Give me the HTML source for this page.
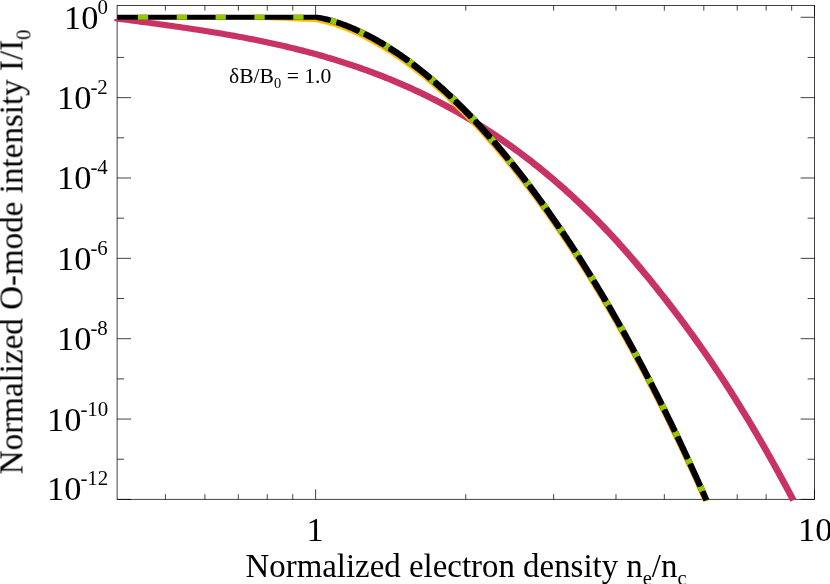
<!DOCTYPE html>
<html><head><meta charset="utf-8"><title>chart</title><style>
html,body{margin:0;padding:0;background:#fff;}
body{width:830px;height:584px;position:relative;overflow:hidden;font-family:"Liberation Serif",serif;color:#000;}
.t{will-change:transform;position:absolute;white-space:nowrap;line-height:1;font-size:32.9px;}
.s{font-size:20.40px;position:relative;}
</style></head><body>
<svg width="830" height="584" viewBox="0 0 830 584" style="position:absolute;left:0;top:0">
<defs><clipPath id="cy"><rect x="117.1" y="5.5" width="701.5" height="495.7"/></clipPath><clipPath id="cb"><rect x="117.1" y="5.5" width="701.5" height="499.8"/></clipPath><clipPath id="cpk"><rect x="113.1" y="5.5" width="705.5" height="499.8"/></clipPath></defs>
<rect width="100%" height="100%" fill="#fff"/>
<path d="M315.60 499.3 V489.3 M315.60 5.5 V15.5 M814.50 499.3 V489.3 M814.50 5.5 V15.5 M165.42 499.3 V494.2 M165.42 5.5 V10.6 M204.92 499.3 V494.2 M204.92 5.5 V10.6 M238.32 499.3 V494.2 M238.32 5.5 V10.6 M267.25 499.3 V494.2 M267.25 5.5 V10.6 M292.77 499.3 V494.2 M292.77 5.5 V10.6 M465.78 499.3 V494.2 M465.78 5.5 V10.6 M553.64 499.3 V494.2 M553.64 5.5 V10.6 M615.97 499.3 V494.2 M615.97 5.5 V10.6 M664.32 499.3 V494.2 M664.32 5.5 V10.6 M703.82 499.3 V494.2 M703.82 5.5 V10.6 M737.22 499.3 V494.2 M737.22 5.5 V10.6 M766.15 499.3 V494.2 M766.15 5.5 V10.6 M791.67 499.3 V494.2 M791.67 5.5 V10.6 M117.1 17.27 H131.1 M814.6 17.27 H800.6 M117.1 57.45 H124.1 M814.6 57.45 H807.6 M117.1 97.63 H131.1 M814.6 97.63 H800.6 M117.1 137.81 H124.1 M814.6 137.81 H807.6 M117.1 177.99 H131.1 M814.6 177.99 H800.6 M117.1 218.17 H124.1 M814.6 218.17 H807.6 M117.1 258.35 H131.1 M814.6 258.35 H800.6 M117.1 298.53 H124.1 M814.6 298.53 H807.6 M117.1 338.71 H131.1 M814.6 338.71 H800.6 M117.1 378.89 H124.1 M814.6 378.89 H807.6 M117.1 419.07 H131.1 M814.6 419.07 H800.6 M117.1 459.25 H124.1 M814.6 459.25 H807.6 M117.1 499.43 H131.1 M814.6 499.43 H800.6" stroke="#000" stroke-width="0.74" fill="none"/>
<rect x="117.1" y="5.5" width="697.5" height="493.8" fill="none" stroke="#000" stroke-width="0.74"/>
<path d="M117.49 15.58 L119.81 15.88 L122.13 16.19 L124.45 16.49 L126.76 16.80 L129.08 17.10 L131.40 17.41 L133.72 17.72 L136.04 18.02 L138.35 18.33 L140.67 18.64 L142.99 18.95 L145.31 19.25 L147.63 19.57 L149.95 19.88 L152.27 20.19 L154.59 20.50 L156.91 20.82 L159.22 21.14 L161.54 21.45 L163.86 21.77 L166.18 22.10 L168.50 22.42 L170.82 22.75 L173.14 23.07 L175.46 23.40 L177.78 23.74 L180.11 24.07 L182.43 24.41 L184.75 24.75 L187.07 25.09 L189.39 25.43 L191.71 25.78 L194.03 26.13 L196.35 26.48 L198.67 26.84 L201.00 27.20 L203.32 27.56 L205.64 27.93 L207.96 28.30 L210.28 28.67 L212.61 29.05 L214.93 29.43 L217.25 29.81 L219.57 30.20 L221.90 30.59 L224.22 30.99 L226.54 31.39 L228.87 31.79 L231.19 32.20 L233.51 32.62 L235.84 33.03 L238.16 33.46 L240.48 33.88 L242.81 34.32 L245.13 34.76 L247.46 35.20 L249.78 35.65 L252.10 36.10 L254.43 36.56 L256.75 37.02 L259.08 37.49 L261.40 37.97 L263.73 38.45 L266.05 38.93 L268.38 39.43 L270.70 39.92 L273.03 40.43 L275.35 40.94 L277.68 41.46 L280.01 41.98 L282.33 42.51 L284.66 43.05 L286.98 43.59 L289.31 44.14 L291.64 44.70 L293.96 45.26 L296.29 45.83 L298.62 46.41 L300.95 47.00 L303.27 47.59 L305.60 48.19 L307.93 48.80 L310.25 49.42 L312.58 50.04 L314.91 50.67 L317.24 51.31 L319.56 51.96 L321.89 52.62 L324.22 53.28 L326.55 53.95 L328.88 54.63 L331.21 55.32 L333.53 56.02 L335.86 56.73 L338.19 57.44 L340.52 58.17 L342.85 58.90 L345.18 59.65 L347.51 60.40 L349.84 61.16 L352.17 61.93 L354.50 62.71 L356.83 63.50 L359.16 64.30 L361.48 65.11 L363.81 65.93 L366.14 66.76 L368.47 67.60 L370.80 68.45 L373.13 69.31 L375.46 70.18 L377.80 71.06 L380.13 71.96 L382.46 72.86 L384.79 73.77 L387.12 74.70 L389.45 75.63 L391.78 76.58 L394.11 77.54 L396.44 78.51 L398.77 79.49 L401.10 80.48 L403.43 81.48 L405.76 82.50 L408.10 83.53 L410.43 84.57 L412.76 85.62 L415.09 86.68 L417.42 87.76 L419.75 88.84 L422.08 89.95 L424.41 91.06 L426.75 92.18 L429.08 93.32 L431.41 94.47 L433.74 95.64 L436.07 96.81 L438.40 98.00 L440.74 99.21 L443.07 100.42 L445.40 101.65 L447.73 102.90 L450.06 104.16 L452.39 105.43 L454.72 106.71 L457.06 108.01 L459.39 109.32 L461.72 110.65 L464.05 111.99 L466.38 113.34 L468.71 114.71 L471.05 116.10 L473.38 117.50 L475.71 118.91 L478.04 120.34 L480.37 121.78 L482.70 123.24 L485.04 124.71 L487.37 126.20 L489.70 127.70 L492.03 129.22 L494.36 130.76 L496.69 132.31 L499.02 133.87 L501.35 135.45 L503.69 137.05 L506.02 138.67 L508.35 140.29 L510.68 141.94 L513.01 143.60 L515.34 145.28 L517.67 146.98 L520.00 148.69 L522.33 150.41 L524.66 152.16 L526.99 153.92 L529.32 155.70 L531.65 157.50 L533.98 159.31 L536.31 161.14 L538.64 162.99 L540.97 164.85 L543.30 166.74 L545.63 168.64 L547.96 170.55 L550.29 172.49 L552.62 174.45 L554.95 176.42 L557.28 178.41 L559.61 180.42 L561.94 182.45 L564.27 184.50 L566.60 186.57 L568.93 188.65 L571.26 190.76 L573.59 192.88 L575.92 195.03 L578.25 197.19 L580.58 199.38 L582.90 201.59 L585.23 203.81 L587.56 206.06 L589.89 208.33 L592.22 210.62 L594.55 212.93 L596.88 215.27 L599.21 217.62 L601.53 220.00 L603.86 222.40 L606.19 224.82 L608.52 227.27 L610.85 229.73 L613.17 232.22 L615.50 234.73 L617.83 237.27 L620.16 239.83 L622.48 242.41 L624.81 245.01 L627.14 247.63 L629.46 250.28 L631.79 252.94 L634.11 255.63 L636.44 258.34 L638.76 261.07 L641.09 263.82 L643.41 266.60 L645.74 269.39 L648.06 272.20 L650.39 275.03 L652.71 277.87 L655.03 280.74 L657.36 283.63 L659.68 286.53 L662.00 289.45 L664.33 292.39 L666.65 295.35 L668.97 298.33 L671.30 301.32 L673.62 304.34 L675.94 307.37 L678.27 310.42 L680.59 313.49 L682.91 316.58 L685.23 319.69 L687.56 322.83 L689.88 325.98 L692.20 329.16 L694.53 332.35 L696.85 335.57 L699.17 338.82 L701.50 342.09 L703.82 345.38 L706.14 348.70 L708.47 352.04 L710.79 355.41 L713.11 358.80 L715.44 362.22 L717.76 365.67 L720.08 369.15 L722.41 372.65 L724.73 376.18 L727.05 379.74 L729.37 383.32 L731.70 386.93 L734.02 390.57 L736.34 394.24 L738.66 397.94 L740.99 401.66 L743.31 405.42 L745.63 409.20 L747.95 413.01 L750.27 416.84 L752.59 420.71 L754.92 424.60 L757.24 428.52 L759.56 432.47 L761.88 436.45 L764.20 440.45 L766.52 444.49 L768.84 448.55 L771.17 452.64 L773.49 456.76 L775.81 460.90 L778.13 465.07 L780.45 469.28 L782.77 473.51 L785.09 477.77 L787.41 482.05 L789.73 486.37 L792.05 490.71 L794.37 495.08 L795.78 497.76 L796.32 498.78 L790.50 501.85 L789.96 500.84 L788.55 498.17 L786.24 493.81 L783.92 489.48 L781.61 485.19 L779.29 480.92 L776.98 476.67 L774.66 472.46 L772.35 468.28 L770.04 464.12 L767.72 460.00 L765.41 455.90 L763.09 451.83 L760.78 447.78 L758.47 443.77 L756.15 439.78 L753.84 435.82 L751.53 431.89 L749.21 427.99 L746.90 424.12 L744.59 420.27 L742.27 416.46 L739.96 412.67 L737.65 408.91 L735.34 405.18 L733.02 401.47 L730.71 397.80 L728.40 394.15 L726.09 390.53 L723.77 386.94 L721.46 383.37 L719.15 379.84 L716.84 376.33 L714.53 372.85 L712.21 369.40 L709.90 365.97 L707.59 362.57 L705.28 359.20 L702.97 355.85 L700.66 352.53 L698.34 349.23 L696.03 345.96 L693.72 342.71 L691.41 339.49 L689.10 336.29 L686.79 333.11 L684.48 329.95 L682.16 326.82 L679.85 323.70 L677.54 320.61 L675.23 317.53 L672.92 314.48 L670.61 311.45 L668.29 308.43 L665.98 305.43 L663.67 302.46 L661.36 299.50 L659.05 296.55 L656.73 293.63 L654.42 290.73 L652.11 287.84 L649.80 284.97 L647.49 282.12 L645.18 279.29 L642.87 276.48 L640.56 273.69 L638.25 270.92 L635.94 268.16 L633.63 265.43 L631.32 262.72 L629.01 260.03 L626.70 257.37 L624.39 254.72 L622.08 252.09 L619.77 249.49 L617.47 246.91 L615.16 244.36 L612.85 241.82 L610.54 239.31 L608.23 236.82 L605.93 234.35 L603.62 231.91 L601.31 229.49 L599.01 227.09 L596.70 224.71 L594.39 222.36 L592.09 220.02 L589.78 217.71 L587.48 215.42 L585.17 213.15 L582.86 210.91 L580.56 208.68 L578.25 206.48 L575.95 204.29 L573.64 202.13 L571.33 199.98 L569.03 197.86 L566.72 195.75 L564.42 193.67 L562.11 191.60 L559.81 189.55 L557.50 187.52 L555.20 185.51 L552.89 183.52 L550.59 181.55 L548.28 179.60 L545.98 177.66 L543.67 175.74 L541.37 173.84 L539.06 171.96 L536.76 170.09 L534.45 168.25 L532.15 166.42 L529.84 164.60 L527.54 162.81 L525.23 161.03 L522.93 159.27 L520.62 157.52 L518.32 155.79 L516.02 154.08 L513.71 152.39 L511.41 150.71 L509.10 149.05 L506.80 147.40 L504.50 145.77 L502.19 144.16 L499.89 142.56 L497.59 140.98 L495.28 139.41 L492.98 137.86 L490.67 136.32 L488.37 134.80 L486.07 133.30 L483.76 131.81 L481.46 130.33 L479.16 128.87 L476.85 127.43 L474.55 126.00 L472.25 124.58 L469.94 123.18 L467.64 121.79 L465.34 120.42 L463.03 119.06 L460.73 117.72 L458.43 116.39 L456.12 115.08 L453.82 113.77 L451.52 112.49 L449.22 111.21 L446.91 109.95 L444.61 108.70 L442.31 107.47 L440.00 106.25 L437.70 105.04 L435.40 103.85 L433.09 102.67 L430.79 101.50 L428.49 100.34 L426.18 99.20 L423.88 98.07 L421.58 96.95 L419.27 95.85 L416.97 94.76 L414.67 93.67 L412.36 92.61 L410.06 91.55 L407.76 90.50 L405.45 89.47 L403.15 88.45 L400.85 87.44 L398.54 86.44 L396.24 85.46 L393.93 84.48 L391.63 83.52 L389.33 82.56 L387.02 81.62 L384.72 80.69 L382.41 79.77 L380.11 78.86 L377.80 77.96 L375.50 77.07 L373.20 76.20 L370.89 75.33 L368.59 74.47 L366.28 73.62 L363.98 72.79 L361.67 71.96 L359.37 71.14 L357.06 70.34 L354.76 69.54 L352.45 68.75 L350.15 67.97 L347.84 67.20 L345.54 66.44 L343.23 65.69 L340.92 64.95 L338.62 64.22 L336.31 63.50 L334.01 62.78 L331.70 62.08 L329.39 61.38 L327.09 60.69 L324.78 60.01 L322.47 59.34 L320.17 58.68 L317.86 58.02 L315.55 57.37 L313.25 56.73 L310.94 56.10 L308.63 55.48 L306.33 54.86 L304.02 54.25 L301.71 53.65 L299.40 53.06 L297.10 52.47 L294.79 51.90 L292.48 51.32 L290.17 50.76 L287.86 50.20 L285.55 49.65 L283.25 49.11 L280.94 48.57 L278.63 48.04 L276.32 47.51 L274.01 46.99 L271.70 46.48 L269.39 45.98 L267.08 45.48 L264.77 44.98 L262.46 44.50 L260.15 44.01 L257.84 43.54 L255.53 43.07 L253.22 42.60 L250.91 42.14 L248.60 41.69 L246.29 41.24 L243.98 40.80 L241.67 40.36 L239.36 39.92 L237.05 39.49 L234.74 39.07 L232.43 38.65 L230.12 38.24 L227.80 37.82 L225.49 37.42 L223.18 37.02 L220.87 36.62 L218.56 36.23 L216.24 35.84 L213.93 35.45 L211.62 35.07 L209.31 34.69 L207.00 34.32 L204.68 33.95 L202.37 33.58 L200.06 33.22 L197.74 32.85 L195.43 32.50 L193.12 32.14 L190.80 31.79 L188.49 31.44 L186.18 31.10 L183.86 30.75 L181.55 30.41 L179.23 30.08 L176.92 29.74 L174.61 29.41 L172.29 29.08 L169.98 28.75 L167.66 28.42 L165.35 28.10 L163.03 27.78 L160.72 27.45 L158.40 27.14 L156.09 26.82 L153.77 26.50 L151.45 26.19 L149.14 25.87 L146.82 25.56 L144.51 25.25 L142.19 24.94 L139.88 24.63 L137.56 24.32 L135.24 24.02 L132.93 23.71 L130.61 23.40 L128.29 23.10 L125.98 22.79 L123.66 22.49 L121.34 22.18 L119.02 21.88 L116.71 21.57Z" fill="#C83264" clip-path="url(#cpk)"/>
<path d="M117.60 19.0 L114.90 19.0 Q114.20 19.0 114.20 19.80 L114.20 20.48 Q114.20 21.18 115.10 21.23 L117.60 21.48Z" fill="#C83264"/>
<g clip-path="url(#cb)">
<path d="M117.10 15.27 L123.73 15.27 L130.36 15.27 L136.99 15.27 L143.62 15.27 L150.25 15.27 L156.88 15.27 L163.51 15.27 L170.14 15.27 L176.77 15.27 L183.40 15.27 L190.03 15.27 L196.66 15.27 L203.29 15.27 L209.92 15.27 L216.55 15.27 L223.18 15.27 L229.81 15.27 L236.44 15.27 L243.07 15.27 L249.74 15.24 L256.42 15.47 L263.05 15.74 L269.68 16.01 L276.31 16.29 L282.94 16.56 L289.57 16.83 L296.20 17.11 L302.83 17.38 L309.46 17.65 L316.13 17.89 L317.91 17.99 L319.51 18.22 L321.12 18.47 L322.73 18.76 L324.33 19.08 L325.93 19.42 L327.53 19.79 L329.12 20.19 L330.71 20.61 L332.31 21.04 L333.90 21.50 L335.49 21.97 L337.07 22.47 L338.66 22.98 L340.25 23.51 L341.84 24.05 L343.42 24.61 L345.01 25.19 L346.59 25.79 L348.18 26.40 L349.76 27.02 L351.35 27.66 L352.93 28.32 L354.51 28.99 L356.09 29.67 L357.68 30.37 L359.26 31.09 L360.84 31.82 L362.42 32.56 L364.00 33.32 L365.58 34.09 L367.16 34.88 L368.74 35.68 L370.32 36.49 L371.90 37.32 L373.48 38.16 L375.06 39.02 L376.64 39.89 L378.22 40.77 L379.80 41.67 L381.37 42.58 L382.95 43.50 L384.53 44.44 L386.11 45.39 L387.68 46.35 L389.26 47.33 L390.84 48.31 L392.41 49.32 L393.99 50.33 L395.56 51.36 L397.14 52.40 L398.72 53.45 L400.29 54.52 L401.87 55.60 L403.44 56.69 L405.01 57.80 L406.59 58.92 L408.16 60.05 L409.74 61.19 L411.31 62.34 L412.88 63.51 L414.46 64.69 L416.03 65.89 L417.60 67.09 L419.17 68.31 L420.75 69.54 L422.32 70.78 L423.89 72.04 L425.46 73.30 L427.03 74.58 L428.60 75.88 L430.17 77.18 L431.75 78.50 L433.32 79.82 L434.89 81.16 L436.46 82.52 L438.03 83.88 L439.60 85.26 L441.17 86.65 L442.74 88.05 L444.31 89.46 L445.88 90.89 L447.45 92.32 L449.01 93.77 L450.58 95.23 L452.15 96.70 L453.72 98.19 L455.29 99.69 L456.86 101.19 L458.43 102.71 L459.99 104.25 L461.56 105.79 L463.13 107.34 L464.70 108.91 L466.26 110.49 L467.83 112.08 L469.40 113.68 L470.97 115.30 L472.53 116.92 L474.10 118.56 L475.67 120.21 L477.23 121.87 L478.80 123.54 L480.37 125.23 L481.93 126.93 L483.50 128.63 L485.07 130.35 L486.63 132.08 L488.20 133.83 L489.76 135.58 L491.33 137.34 L492.89 139.12 L494.46 140.91 L496.03 142.71 L497.59 144.52 L499.16 146.35 L500.72 148.18 L502.29 150.03 L503.85 151.89 L505.42 153.76 L506.98 155.64 L508.55 157.53 L510.11 159.44 L511.67 161.35 L513.24 163.28 L514.80 165.22 L516.37 167.17 L517.93 169.13 L519.50 171.11 L521.06 173.09 L522.62 175.09 L524.19 177.10 L525.75 179.12 L527.32 181.15 L528.88 183.19 L530.44 185.25 L532.01 187.31 L533.57 189.39 L535.13 191.48 L536.70 193.58 L538.26 195.69 L539.82 197.82 L541.39 199.95 L542.95 202.10 L544.51 204.26 L546.08 206.43 L547.64 208.61 L549.20 210.81 L550.77 213.01 L552.33 215.23 L553.89 217.46 L555.45 219.70 L557.02 221.96 L558.58 224.22 L560.14 226.50 L561.70 228.79 L563.27 231.09 L564.83 233.40 L566.39 235.72 L567.95 238.06 L569.52 240.41 L571.08 242.77 L572.64 245.14 L574.20 247.52 L575.76 249.92 L577.33 252.32 L578.89 254.74 L580.45 257.17 L582.01 259.62 L583.57 262.07 L585.14 264.54 L586.70 267.02 L588.26 269.51 L589.82 272.02 L591.38 274.53 L592.95 277.06 L594.51 279.60 L596.07 282.15 L597.63 284.72 L599.19 287.30 L600.75 289.89 L602.31 292.49 L603.88 295.10 L605.44 297.73 L607.00 300.37 L608.56 303.02 L610.12 305.69 L611.68 308.37 L613.24 311.06 L614.81 313.76 L616.37 316.48 L617.93 319.20 L619.49 321.95 L621.05 324.70 L622.61 327.47 L624.17 330.25 L625.73 333.04 L627.29 335.84 L628.86 338.66 L630.42 341.49 L631.98 344.34 L633.54 347.20 L635.10 350.07 L636.66 352.95 L638.22 355.85 L639.78 358.76 L641.34 361.69 L642.90 364.62 L644.46 367.58 L646.02 370.54 L647.58 373.52 L649.15 376.51 L650.71 379.52 L652.27 382.54 L653.83 385.57 L655.39 388.62 L656.95 391.68 L658.51 394.75 L660.07 397.84 L661.63 400.94 L663.19 404.06 L664.75 407.19 L666.31 410.34 L667.87 413.50 L669.43 416.67 L670.99 419.86 L672.55 423.06 L674.11 426.28 L675.67 429.51 L677.23 432.76 L678.79 436.02 L680.35 439.29 L681.91 442.58 L683.47 445.89 L685.03 449.21 L686.59 452.54 L688.15 455.89 L689.71 459.26 L691.27 462.64 L692.83 466.04 L694.39 469.45 L695.95 472.88 L697.51 476.32 L699.07 479.78 L700.63 483.25 L702.19 486.74 L703.75 490.24 L705.31 493.76 L706.87 497.30 L708.43 500.85 L708.51 501.02 L708.97 502.07 L704.02 504.24 L703.56 503.18 L703.49 503.03 L701.93 499.48 L700.37 495.95 L698.81 492.44 L697.25 488.95 L695.69 485.47 L694.13 482.00 L692.57 478.56 L691.01 475.12 L689.45 471.71 L687.89 468.31 L686.33 464.92 L684.77 461.55 L683.21 458.19 L681.65 454.85 L680.09 451.53 L678.53 448.22 L676.97 444.92 L675.41 441.64 L673.86 438.38 L672.30 435.13 L670.74 431.89 L669.18 428.67 L667.62 425.46 L666.06 422.27 L664.50 419.09 L662.94 415.93 L661.38 412.78 L659.82 409.64 L658.26 406.52 L656.70 403.42 L655.14 400.33 L653.58 397.25 L652.02 394.18 L650.47 391.13 L648.91 388.10 L647.35 385.08 L645.79 382.07 L644.23 379.07 L642.67 376.09 L641.11 373.12 L639.55 370.17 L637.99 367.23 L636.43 364.30 L634.88 361.39 L633.32 358.49 L631.76 355.60 L630.20 352.73 L628.64 349.87 L627.08 347.02 L625.52 344.19 L623.96 341.37 L622.40 338.56 L620.85 335.77 L619.29 332.99 L617.73 330.22 L616.17 327.46 L614.61 324.72 L613.05 321.99 L611.49 319.27 L609.94 316.57 L608.38 313.88 L606.82 311.20 L605.26 308.53 L603.70 305.88 L602.14 303.24 L600.59 300.61 L599.03 298.00 L597.47 295.39 L595.91 292.80 L594.35 290.23 L592.79 287.66 L591.24 285.11 L589.68 282.57 L588.12 280.04 L586.56 277.52 L585.00 275.02 L583.45 272.52 L581.89 270.05 L580.33 267.58 L578.77 265.12 L577.22 262.68 L575.66 260.25 L574.10 257.83 L572.54 255.42 L570.98 253.03 L569.43 250.65 L567.87 248.28 L566.31 245.92 L564.75 243.57 L563.20 241.24 L561.64 238.91 L560.08 236.60 L558.52 234.30 L556.97 232.02 L555.41 229.74 L553.85 227.48 L552.30 225.23 L550.74 222.99 L549.18 220.76 L547.63 218.54 L546.07 216.34 L544.51 214.14 L542.96 211.96 L541.40 209.79 L539.84 207.64 L538.29 205.49 L536.73 203.36 L535.17 201.24 L533.62 199.12 L532.06 197.03 L530.50 194.94 L528.95 192.86 L527.39 190.80 L525.83 188.75 L524.28 186.71 L522.72 184.68 L521.17 182.66 L519.61 180.65 L518.06 178.66 L516.50 176.68 L514.94 174.71 L513.39 172.75 L511.83 170.80 L510.28 168.86 L508.72 166.94 L507.17 165.02 L505.61 163.12 L504.06 161.23 L502.50 159.36 L500.95 157.49 L499.39 155.63 L497.84 153.79 L496.28 151.96 L494.73 150.14 L493.17 148.33 L491.62 146.53 L490.06 144.75 L488.51 142.97 L486.96 141.21 L485.40 139.46 L483.85 137.72 L482.29 136.00 L480.74 134.28 L479.19 132.58 L477.63 130.88 L476.08 129.20 L474.53 127.53 L472.97 125.88 L471.42 124.23 L469.87 122.60 L468.32 120.98 L466.76 119.37 L465.21 117.77 L463.66 116.18 L462.11 114.60 L460.55 113.04 L459.00 111.49 L457.45 109.95 L455.90 108.42 L454.35 106.91 L452.79 105.40 L451.24 103.91 L449.69 102.43 L448.14 100.96 L446.59 99.50 L445.04 98.06 L443.49 96.62 L441.94 95.20 L440.39 93.79 L438.84 92.40 L437.29 91.01 L435.74 89.64 L434.19 88.28 L432.64 86.93 L431.09 85.59 L429.54 84.26 L427.99 82.95 L426.44 81.65 L424.89 80.36 L423.35 79.08 L421.80 77.82 L420.25 76.57 L418.70 75.33 L417.15 74.10 L415.61 72.88 L414.06 71.68 L412.51 70.49 L410.97 69.31 L409.42 68.14 L407.87 66.99 L406.33 65.84 L404.78 64.72 L403.23 63.60 L401.69 62.49 L400.14 61.40 L398.60 60.32 L397.05 59.25 L395.51 58.20 L393.96 57.16 L392.42 56.13 L390.88 55.11 L389.33 54.11 L387.79 53.12 L386.25 52.14 L384.70 51.17 L383.16 50.22 L381.62 49.28 L380.07 48.35 L378.53 47.44 L376.99 46.54 L375.45 45.65 L373.91 44.78 L372.37 43.91 L370.83 43.07 L369.29 42.23 L367.75 41.41 L366.21 40.60 L364.67 39.80 L363.13 39.02 L361.59 38.25 L360.05 37.50 L358.51 36.76 L356.97 36.03 L355.44 35.32 L353.90 34.62 L352.36 33.93 L350.82 33.26 L349.29 32.61 L347.75 31.96 L346.22 31.34 L344.68 30.72 L343.15 30.12 L341.61 29.54 L340.08 28.97 L338.55 28.42 L337.01 27.88 L335.48 27.36 L333.95 26.86 L332.42 26.37 L330.89 25.90 L329.36 25.45 L327.84 25.02 L326.31 24.60 L324.79 24.21 L323.27 23.83 L321.75 23.48 L320.24 23.15 L318.73 22.86 L317.21 22.59 L315.87 22.24 L309.28 21.94 L302.65 21.66 L296.02 21.39 L289.39 21.12 L282.76 20.85 L276.13 20.57 L269.50 20.30 L262.87 20.03 L256.24 19.75 L249.66 19.46 L243.07 19.42 L236.44 19.42 L229.81 19.42 L223.18 19.42 L216.55 19.42 L209.92 19.42 L203.29 19.42 L196.66 19.42 L190.03 19.42 L183.40 19.42 L176.77 19.42 L170.14 19.42 L163.51 19.42 L156.88 19.42 L150.25 19.42 L143.62 19.42 L136.99 19.42 L130.36 19.42 L123.73 19.42 L117.10 19.42Z" fill="#FFC000" clip-path="url(#cy)"/>
<path d="M117.10 14.87 L123.73 14.87 L130.36 14.87 L136.99 14.87 L143.62 14.87 L150.25 14.87 L156.88 14.87 L163.51 14.87 L170.14 14.87 L176.77 14.87 L183.40 14.87 L190.03 14.87 L196.66 14.87 L203.29 14.87 L209.92 14.87 L216.55 14.87 L223.18 14.87 L229.81 14.87 L236.44 14.87 L243.07 14.87 L249.70 14.87 L256.33 14.87 L262.96 14.87 L269.59 14.87 L276.22 14.87 L282.85 14.87 L289.48 14.87 L296.11 14.87 L302.74 14.87 L309.37 14.87 L316.05 14.84 L317.89 14.84 L319.56 15.03 L321.19 15.28 L322.81 15.57 L324.42 15.89 L326.02 16.23 L327.62 16.61 L329.22 17.00 L330.82 17.42 L332.42 17.86 L334.01 18.32 L335.61 18.79 L337.20 19.29 L338.79 19.80 L340.38 20.33 L341.97 20.87 L343.56 21.44 L345.15 22.02 L346.74 22.61 L348.32 23.22 L349.91 23.85 L351.50 24.49 L353.09 25.15 L354.67 25.82 L356.26 26.51 L357.84 27.21 L359.43 27.93 L361.01 28.66 L362.59 29.40 L364.18 30.16 L365.76 30.94 L367.34 31.72 L368.93 32.52 L370.51 33.34 L372.09 34.17 L373.67 35.01 L375.25 35.87 L376.84 36.74 L378.42 37.62 L380.00 38.52 L381.58 39.43 L383.16 40.36 L384.74 41.29 L386.32 42.25 L387.89 43.21 L389.47 44.19 L391.05 45.18 L392.63 46.18 L394.21 47.20 L395.79 48.23 L397.36 49.27 L398.94 50.32 L400.52 51.39 L402.09 52.47 L403.67 53.57 L405.25 54.67 L406.82 55.79 L408.40 56.92 L409.97 58.07 L411.55 59.22 L413.12 60.39 L414.70 61.57 L416.27 62.77 L417.85 63.97 L419.42 65.19 L420.99 66.43 L422.57 67.67 L424.14 68.93 L425.71 70.19 L427.29 71.47 L428.86 72.77 L430.43 74.07 L432.00 75.39 L433.58 76.72 L435.15 78.06 L436.72 79.41 L438.29 80.78 L439.86 82.16 L441.43 83.55 L443.00 84.95 L444.58 86.36 L446.15 87.79 L447.72 89.23 L449.29 90.68 L450.86 92.14 L452.43 93.61 L454.00 95.10 L455.57 96.60 L457.14 98.11 L458.70 99.63 L460.27 101.16 L461.84 102.70 L463.41 104.26 L464.98 105.83 L466.55 107.41 L468.12 109.00 L469.69 110.61 L471.25 112.22 L472.82 113.85 L474.39 115.49 L475.96 117.14 L477.53 118.80 L479.09 120.47 L480.66 122.16 L482.23 123.85 L483.79 125.56 L485.36 127.28 L486.93 129.01 L488.50 130.76 L490.06 132.51 L491.63 134.28 L493.20 136.06 L494.76 137.85 L496.33 139.65 L497.89 141.46 L499.46 143.29 L501.03 145.12 L502.59 146.97 L504.16 148.83 L505.72 150.70 L507.29 152.58 L508.85 154.48 L510.42 156.38 L511.98 158.30 L513.55 160.23 L515.12 162.17 L516.68 164.12 L518.25 166.08 L519.81 168.06 L521.37 170.04 L522.94 172.04 L524.50 174.05 L526.07 176.07 L527.63 178.10 L529.20 180.15 L530.76 182.20 L532.33 184.27 L533.89 186.35 L535.45 188.44 L537.02 190.54 L538.58 192.66 L540.15 194.78 L541.71 196.92 L543.27 199.07 L544.84 201.23 L546.40 203.40 L547.96 205.58 L549.53 207.78 L551.09 209.98 L552.66 212.20 L554.22 214.43 L555.78 216.67 L557.35 218.93 L558.91 221.19 L560.47 223.47 L562.03 225.76 L563.60 228.06 L565.16 230.37 L566.72 232.70 L568.29 235.04 L569.85 237.38 L571.41 239.74 L572.97 242.12 L574.54 244.50 L576.10 246.90 L577.66 249.30 L579.22 251.73 L580.79 254.16 L582.35 256.60 L583.91 259.06 L585.47 261.53 L587.04 264.01 L588.60 266.50 L590.16 269.00 L591.72 271.52 L593.29 274.05 L594.85 276.59 L596.41 279.15 L597.97 281.71 L599.53 284.29 L601.10 286.88 L602.66 289.48 L604.22 292.10 L605.78 294.73 L607.34 297.37 L608.91 300.02 L610.47 302.69 L612.03 305.37 L613.59 308.06 L615.15 310.76 L616.71 313.48 L618.27 316.21 L619.84 318.95 L621.40 321.70 L622.96 324.47 L624.52 327.25 L626.08 330.04 L627.64 332.85 L629.21 335.67 L630.77 338.50 L632.33 341.35 L633.89 344.21 L635.45 347.08 L637.01 349.96 L638.57 352.86 L640.13 355.77 L641.69 358.70 L643.26 361.64 L644.82 364.59 L646.38 367.55 L647.94 370.53 L649.50 373.53 L651.06 376.53 L652.62 379.55 L654.18 382.59 L655.74 385.63 L657.30 388.69 L658.87 391.77 L660.43 394.86 L661.99 397.96 L663.55 401.08 L665.11 404.21 L666.67 407.36 L668.23 410.52 L669.79 413.69 L671.35 416.88 L672.91 420.08 L674.47 423.30 L676.03 426.54 L677.59 429.78 L679.15 433.04 L680.71 436.32 L682.28 439.61 L683.84 442.92 L685.40 446.24 L686.96 449.57 L688.52 452.93 L690.08 456.29 L691.64 459.67 L693.20 463.07 L694.76 466.48 L696.32 469.91 L697.88 473.35 L699.44 476.81 L701.00 480.29 L702.56 483.77 L704.12 487.28 L705.68 490.80 L707.24 494.34 L708.80 497.89 L708.87 498.06 L709.33 499.11 L703.65 501.60 L703.19 500.54 L703.12 500.39 L701.56 496.84 L700.00 493.32 L698.44 489.80 L696.88 486.31 L695.32 482.83 L693.77 479.37 L692.21 475.92 L690.65 472.49 L689.09 469.07 L687.53 465.67 L685.97 462.29 L684.41 458.92 L682.85 455.56 L681.29 452.22 L679.73 448.90 L678.17 445.59 L676.61 442.29 L675.05 439.01 L673.49 435.75 L671.94 432.50 L670.38 429.26 L668.82 426.04 L667.26 422.84 L665.70 419.65 L664.14 416.47 L662.58 413.31 L661.02 410.16 L659.46 407.02 L657.90 403.90 L656.35 400.80 L654.79 397.71 L653.23 394.63 L651.67 391.57 L650.11 388.52 L648.55 385.48 L646.99 382.46 L645.43 379.45 L643.87 376.46 L642.32 373.48 L640.76 370.51 L639.20 367.56 L637.64 364.62 L636.08 361.69 L634.52 358.78 L632.96 355.88 L631.41 352.99 L629.85 350.12 L628.29 347.26 L626.73 344.42 L625.17 341.58 L623.61 338.76 L622.06 335.96 L620.50 333.16 L618.94 330.38 L617.38 327.61 L615.82 324.86 L614.26 322.12 L612.71 319.39 L611.15 316.67 L609.59 313.97 L608.03 311.28 L606.47 308.60 L604.92 305.94 L603.36 303.28 L601.80 300.64 L600.24 298.02 L598.68 295.40 L597.13 292.80 L595.57 290.21 L594.01 287.63 L592.45 285.07 L590.90 282.51 L589.34 279.97 L587.78 277.45 L586.22 274.93 L584.66 272.43 L583.11 269.94 L581.55 267.46 L579.99 264.99 L578.44 262.54 L576.88 260.09 L575.32 257.66 L573.76 255.25 L572.21 252.84 L570.65 250.45 L569.09 248.07 L567.54 245.70 L565.98 243.34 L564.42 240.99 L562.86 238.66 L561.31 236.34 L559.75 234.03 L558.19 231.73 L556.64 229.44 L555.08 227.17 L553.52 224.90 L551.97 222.65 L550.41 220.41 L548.85 218.19 L547.30 215.97 L545.74 213.77 L544.19 211.58 L542.63 209.40 L541.07 207.23 L539.52 205.07 L537.96 202.93 L536.41 200.79 L534.85 198.67 L533.29 196.56 L531.74 194.46 L530.18 192.38 L528.63 190.30 L527.07 188.24 L525.52 186.19 L523.96 184.15 L522.41 182.12 L520.85 180.10 L519.29 178.10 L517.74 176.11 L516.18 174.12 L514.63 172.15 L513.08 170.20 L511.52 168.25 L509.97 166.31 L508.41 164.39 L506.86 162.48 L505.30 160.58 L503.75 158.69 L502.19 156.81 L500.64 154.95 L499.09 153.09 L497.53 151.25 L495.98 149.42 L494.42 147.60 L492.87 145.79 L491.32 144.00 L489.76 142.21 L488.21 140.44 L486.66 138.68 L485.10 136.93 L483.55 135.19 L482.00 133.46 L480.45 131.75 L478.89 130.05 L477.34 128.35 L475.79 126.68 L474.24 125.01 L472.68 123.35 L471.13 121.71 L469.58 120.07 L468.03 118.45 L466.48 116.84 L464.92 115.25 L463.37 113.66 L461.82 112.09 L460.27 110.52 L458.72 108.97 L457.17 107.43 L455.62 105.91 L454.07 104.39 L452.52 102.89 L450.97 101.40 L449.42 99.92 L447.87 98.45 L446.32 96.99 L444.77 95.55 L443.22 94.12 L441.67 92.70 L440.12 91.29 L438.57 89.89 L437.02 88.51 L435.47 87.14 L433.93 85.78 L432.38 84.43 L430.83 83.09 L429.28 81.77 L427.73 80.46 L426.19 79.16 L424.64 77.87 L423.09 76.59 L421.55 75.33 L420.00 74.08 L418.45 72.84 L416.91 71.61 L415.36 70.40 L413.81 69.19 L412.27 68.00 L410.72 66.83 L409.18 65.66 L407.63 64.51 L406.09 63.37 L404.55 62.24 L403.00 61.12 L401.46 60.02 L399.91 58.93 L398.37 57.85 L396.83 56.78 L395.28 55.73 L393.74 54.69 L392.20 53.66 L390.66 52.65 L389.12 51.64 L387.57 50.65 L386.03 49.68 L384.49 48.71 L382.95 47.76 L381.41 46.82 L379.87 45.90 L378.33 44.98 L376.79 44.08 L375.25 43.20 L373.71 42.32 L372.17 41.46 L370.64 40.62 L369.10 39.78 L367.56 38.96 L366.02 38.15 L364.49 37.36 L362.95 36.58 L361.41 35.81 L359.88 35.06 L358.34 34.32 L356.81 33.59 L355.27 32.88 L353.74 32.18 L352.20 31.50 L350.67 30.83 L349.13 30.18 L347.60 29.53 L346.07 28.91 L344.54 28.30 L343.01 27.70 L341.47 27.12 L339.94 26.55 L338.41 26.00 L336.89 25.46 L335.36 24.94 L333.83 24.44 L332.30 23.96 L330.78 23.49 L329.26 23.04 L327.73 22.60 L326.21 22.19 L324.70 21.79 L323.18 21.42 L321.67 21.07 L320.17 20.75 L318.68 20.45 L317.23 20.17 L315.95 19.86 L309.37 19.82 L302.74 19.82 L296.11 19.82 L289.48 19.82 L282.85 19.82 L276.22 19.82 L269.59 19.82 L262.96 19.82 L256.33 19.82 L249.70 19.82 L243.07 19.82 L236.44 19.82 L229.81 19.82 L223.18 19.82 L216.55 19.82 L209.92 19.82 L203.29 19.82 L196.66 19.82 L190.03 19.82 L183.40 19.82 L176.77 19.82 L170.14 19.82 L163.51 19.82 L156.88 19.82 L150.25 19.82 L143.62 19.82 L136.99 19.82 L130.36 19.82 L123.73 19.82 L117.10 19.82Z" fill="#000"/>
<clipPath id="sc"><path d="M117.10 14.87 L123.73 14.87 L130.36 14.87 L136.99 14.87 L143.62 14.87 L150.25 14.87 L156.88 14.87 L163.51 14.87 L170.14 14.87 L176.77 14.87 L183.40 14.87 L190.03 14.87 L196.66 14.87 L203.29 14.87 L209.92 14.87 L216.55 14.87 L223.18 14.87 L229.81 14.87 L236.44 14.87 L243.07 14.87 L249.70 14.87 L256.33 14.87 L262.96 14.87 L269.59 14.87 L276.22 14.87 L282.85 14.87 L289.48 14.87 L296.11 14.87 L302.74 14.87 L309.37 14.87 L316.05 14.84 L317.89 14.84 L319.56 15.03 L321.19 15.28 L322.81 15.57 L324.42 15.89 L326.02 16.23 L327.62 16.61 L329.22 17.00 L330.82 17.42 L332.42 17.86 L334.01 18.32 L335.61 18.79 L337.20 19.29 L338.79 19.80 L340.38 20.33 L341.97 20.87 L343.56 21.44 L345.15 22.02 L346.74 22.61 L348.32 23.22 L349.91 23.85 L351.50 24.49 L353.09 25.15 L354.67 25.82 L356.26 26.51 L357.84 27.21 L359.43 27.93 L361.01 28.66 L362.59 29.40 L364.18 30.16 L365.76 30.94 L367.34 31.72 L368.93 32.52 L370.51 33.34 L372.09 34.17 L373.67 35.01 L375.25 35.87 L376.84 36.74 L378.42 37.62 L380.00 38.52 L381.58 39.43 L383.16 40.36 L384.74 41.29 L386.32 42.25 L387.89 43.21 L389.47 44.19 L391.05 45.18 L392.63 46.18 L394.21 47.20 L395.79 48.23 L397.36 49.27 L398.94 50.32 L400.52 51.39 L402.09 52.47 L403.67 53.57 L405.25 54.67 L406.82 55.79 L408.40 56.92 L409.97 58.07 L411.55 59.22 L413.12 60.39 L414.70 61.57 L416.27 62.77 L417.85 63.97 L419.42 65.19 L420.99 66.43 L422.57 67.67 L424.14 68.93 L425.71 70.19 L427.29 71.47 L428.86 72.77 L430.43 74.07 L432.00 75.39 L433.58 76.72 L435.15 78.06 L436.72 79.41 L438.29 80.78 L439.86 82.16 L441.43 83.55 L443.00 84.95 L444.58 86.36 L446.15 87.79 L447.72 89.23 L449.29 90.68 L450.86 92.14 L452.43 93.61 L454.00 95.10 L455.57 96.60 L457.14 98.11 L458.70 99.63 L460.27 101.16 L461.84 102.70 L463.41 104.26 L464.98 105.83 L466.55 107.41 L468.12 109.00 L469.69 110.61 L471.25 112.22 L472.82 113.85 L474.39 115.49 L475.96 117.14 L477.53 118.80 L479.09 120.47 L480.66 122.16 L482.23 123.85 L483.79 125.56 L485.36 127.28 L486.93 129.01 L488.50 130.76 L490.06 132.51 L491.63 134.28 L493.20 136.06 L494.76 137.85 L496.33 139.65 L497.89 141.46 L499.46 143.29 L501.03 145.12 L502.59 146.97 L504.16 148.83 L505.72 150.70 L507.29 152.58 L508.85 154.48 L510.42 156.38 L511.98 158.30 L513.55 160.23 L515.12 162.17 L516.68 164.12 L518.25 166.08 L519.81 168.06 L521.37 170.04 L522.94 172.04 L524.50 174.05 L526.07 176.07 L527.63 178.10 L529.20 180.15 L530.76 182.20 L532.33 184.27 L533.89 186.35 L535.45 188.44 L537.02 190.54 L538.58 192.66 L540.15 194.78 L541.71 196.92 L543.27 199.07 L544.84 201.23 L546.40 203.40 L547.96 205.58 L549.53 207.78 L551.09 209.98 L552.66 212.20 L554.22 214.43 L555.78 216.67 L557.35 218.93 L558.91 221.19 L560.47 223.47 L562.03 225.76 L563.60 228.06 L565.16 230.37 L566.72 232.70 L568.29 235.04 L569.85 237.38 L571.41 239.74 L572.97 242.12 L574.54 244.50 L576.10 246.90 L577.66 249.30 L579.22 251.73 L580.79 254.16 L582.35 256.60 L583.91 259.06 L585.47 261.53 L587.04 264.01 L588.60 266.50 L590.16 269.00 L591.72 271.52 L593.29 274.05 L594.85 276.59 L596.41 279.15 L597.97 281.71 L599.53 284.29 L601.10 286.88 L602.66 289.48 L604.22 292.10 L605.78 294.73 L607.34 297.37 L608.91 300.02 L610.47 302.69 L612.03 305.37 L613.59 308.06 L615.15 310.76 L616.71 313.48 L618.27 316.21 L619.84 318.95 L621.40 321.70 L622.96 324.47 L624.52 327.25 L626.08 330.04 L627.64 332.85 L629.21 335.67 L630.77 338.50 L632.33 341.35 L633.89 344.21 L635.45 347.08 L637.01 349.96 L638.57 352.86 L640.13 355.77 L641.69 358.70 L643.26 361.64 L644.82 364.59 L646.38 367.55 L647.94 370.53 L649.50 373.53 L651.06 376.53 L652.62 379.55 L654.18 382.59 L655.74 385.63 L657.30 388.69 L658.87 391.77 L660.43 394.86 L661.99 397.96 L663.55 401.08 L665.11 404.21 L666.67 407.36 L668.23 410.52 L669.79 413.69 L671.35 416.88 L672.91 420.08 L674.47 423.30 L676.03 426.54 L677.59 429.78 L679.15 433.04 L680.71 436.32 L682.28 439.61 L683.84 442.92 L685.40 446.24 L686.96 449.57 L688.52 452.93 L690.08 456.29 L691.64 459.67 L693.20 463.07 L694.76 466.48 L696.32 469.91 L697.88 473.35 L699.44 476.81 L701.00 480.29 L702.56 483.77 L704.12 487.28 L705.68 490.80 L707.24 494.34 L708.80 497.89 L708.87 498.06 L709.33 499.11 L703.65 501.60 L703.19 500.54 L703.12 500.39 L701.56 496.84 L700.00 493.32 L698.44 489.80 L696.88 486.31 L695.32 482.83 L693.77 479.37 L692.21 475.92 L690.65 472.49 L689.09 469.07 L687.53 465.67 L685.97 462.29 L684.41 458.92 L682.85 455.56 L681.29 452.22 L679.73 448.90 L678.17 445.59 L676.61 442.29 L675.05 439.01 L673.49 435.75 L671.94 432.50 L670.38 429.26 L668.82 426.04 L667.26 422.84 L665.70 419.65 L664.14 416.47 L662.58 413.31 L661.02 410.16 L659.46 407.02 L657.90 403.90 L656.35 400.80 L654.79 397.71 L653.23 394.63 L651.67 391.57 L650.11 388.52 L648.55 385.48 L646.99 382.46 L645.43 379.45 L643.87 376.46 L642.32 373.48 L640.76 370.51 L639.20 367.56 L637.64 364.62 L636.08 361.69 L634.52 358.78 L632.96 355.88 L631.41 352.99 L629.85 350.12 L628.29 347.26 L626.73 344.42 L625.17 341.58 L623.61 338.76 L622.06 335.96 L620.50 333.16 L618.94 330.38 L617.38 327.61 L615.82 324.86 L614.26 322.12 L612.71 319.39 L611.15 316.67 L609.59 313.97 L608.03 311.28 L606.47 308.60 L604.92 305.94 L603.36 303.28 L601.80 300.64 L600.24 298.02 L598.68 295.40 L597.13 292.80 L595.57 290.21 L594.01 287.63 L592.45 285.07 L590.90 282.51 L589.34 279.97 L587.78 277.45 L586.22 274.93 L584.66 272.43 L583.11 269.94 L581.55 267.46 L579.99 264.99 L578.44 262.54 L576.88 260.09 L575.32 257.66 L573.76 255.25 L572.21 252.84 L570.65 250.45 L569.09 248.07 L567.54 245.70 L565.98 243.34 L564.42 240.99 L562.86 238.66 L561.31 236.34 L559.75 234.03 L558.19 231.73 L556.64 229.44 L555.08 227.17 L553.52 224.90 L551.97 222.65 L550.41 220.41 L548.85 218.19 L547.30 215.97 L545.74 213.77 L544.19 211.58 L542.63 209.40 L541.07 207.23 L539.52 205.07 L537.96 202.93 L536.41 200.79 L534.85 198.67 L533.29 196.56 L531.74 194.46 L530.18 192.38 L528.63 190.30 L527.07 188.24 L525.52 186.19 L523.96 184.15 L522.41 182.12 L520.85 180.10 L519.29 178.10 L517.74 176.11 L516.18 174.12 L514.63 172.15 L513.08 170.20 L511.52 168.25 L509.97 166.31 L508.41 164.39 L506.86 162.48 L505.30 160.58 L503.75 158.69 L502.19 156.81 L500.64 154.95 L499.09 153.09 L497.53 151.25 L495.98 149.42 L494.42 147.60 L492.87 145.79 L491.32 144.00 L489.76 142.21 L488.21 140.44 L486.66 138.68 L485.10 136.93 L483.55 135.19 L482.00 133.46 L480.45 131.75 L478.89 130.05 L477.34 128.35 L475.79 126.68 L474.24 125.01 L472.68 123.35 L471.13 121.71 L469.58 120.07 L468.03 118.45 L466.48 116.84 L464.92 115.25 L463.37 113.66 L461.82 112.09 L460.27 110.52 L458.72 108.97 L457.17 107.43 L455.62 105.91 L454.07 104.39 L452.52 102.89 L450.97 101.40 L449.42 99.92 L447.87 98.45 L446.32 96.99 L444.77 95.55 L443.22 94.12 L441.67 92.70 L440.12 91.29 L438.57 89.89 L437.02 88.51 L435.47 87.14 L433.93 85.78 L432.38 84.43 L430.83 83.09 L429.28 81.77 L427.73 80.46 L426.19 79.16 L424.64 77.87 L423.09 76.59 L421.55 75.33 L420.00 74.08 L418.45 72.84 L416.91 71.61 L415.36 70.40 L413.81 69.19 L412.27 68.00 L410.72 66.83 L409.18 65.66 L407.63 64.51 L406.09 63.37 L404.55 62.24 L403.00 61.12 L401.46 60.02 L399.91 58.93 L398.37 57.85 L396.83 56.78 L395.28 55.73 L393.74 54.69 L392.20 53.66 L390.66 52.65 L389.12 51.64 L387.57 50.65 L386.03 49.68 L384.49 48.71 L382.95 47.76 L381.41 46.82 L379.87 45.90 L378.33 44.98 L376.79 44.08 L375.25 43.20 L373.71 42.32 L372.17 41.46 L370.64 40.62 L369.10 39.78 L367.56 38.96 L366.02 38.15 L364.49 37.36 L362.95 36.58 L361.41 35.81 L359.88 35.06 L358.34 34.32 L356.81 33.59 L355.27 32.88 L353.74 32.18 L352.20 31.50 L350.67 30.83 L349.13 30.18 L347.60 29.53 L346.07 28.91 L344.54 28.30 L343.01 27.70 L341.47 27.12 L339.94 26.55 L338.41 26.00 L336.89 25.46 L335.36 24.94 L333.83 24.44 L332.30 23.96 L330.78 23.49 L329.26 23.04 L327.73 22.60 L326.21 22.19 L324.70 21.79 L323.18 21.42 L321.67 21.07 L320.17 20.75 L318.68 20.45 L317.23 20.17 L315.95 19.86 L309.37 19.82 L302.74 19.82 L296.11 19.82 L289.48 19.82 L282.85 19.82 L276.22 19.82 L269.59 19.82 L262.96 19.82 L256.33 19.82 L249.70 19.82 L243.07 19.82 L236.44 19.82 L229.81 19.82 L223.18 19.82 L216.55 19.82 L209.92 19.82 L203.29 19.82 L196.66 19.82 L190.03 19.82 L183.40 19.82 L176.77 19.82 L170.14 19.82 L163.51 19.82 L156.88 19.82 L150.25 19.82 L143.62 19.82 L136.99 19.82 L130.36 19.82 L123.73 19.82 L117.10 19.82Z"/></clipPath>
<g clip-path="url(#sc)"><path d="M137.85 26.35 L148.15 26.35 L148.15 8.35 L137.85 8.35Z M176.70 26.35 L187.00 26.35 L187.00 8.35 L176.70 8.35Z M215.55 26.35 L225.85 26.35 L225.85 8.35 L215.55 8.35Z M254.40 26.35 L264.70 26.35 L264.70 8.35 L254.40 8.35Z M293.25 26.35 L303.55 26.35 L303.55 8.35 L293.25 8.35Z M329.23 23.64 L335.71 25.64 L336.27 22.09 L337.81 18.85 L331.32 16.85 L330.77 20.40Z M357.15 34.41 L362.89 37.19 L363.67 33.41 L366.15 30.46 L360.42 27.67 L359.63 31.45Z M382.38 48.11 L387.64 51.38 L388.65 47.49 L391.70 44.87 L386.43 41.59 L385.42 45.48Z M405.73 63.84 L410.63 67.49 L411.88 63.57 L415.28 61.25 L410.37 57.60 L409.13 61.52Z M427.64 81.15 L432.25 85.10 L433.72 81.20 L437.34 79.15 L432.72 75.20 L431.26 79.10Z M448.37 99.74 L452.75 103.94 L454.42 100.10 L458.18 98.27 L453.80 94.07 L452.13 97.91Z M468.12 119.41 L472.30 123.81 L474.15 120.06 L477.99 118.41 L473.81 114.00 L471.97 117.76Z M487.03 140.00 L491.04 144.58 L493.04 140.92 L496.93 139.42 L492.92 134.84 L490.92 138.50Z M505.19 161.38 L509.05 166.13 L511.20 162.57 L515.11 161.20 L511.26 156.46 L509.11 160.01Z M522.70 183.49 L526.42 188.37 L528.69 184.92 L532.62 183.65 L528.90 178.77 L526.63 182.22Z M539.62 206.23 L543.21 211.24 L545.59 207.90 L549.52 206.72 L545.93 201.71 L543.55 205.05Z M555.99 229.55 L559.47 234.68 L561.95 231.45 L565.87 230.35 L562.39 225.21 L559.91 228.44Z M571.87 253.41 L575.24 258.65 L577.81 255.53 L581.71 254.49 L578.34 249.24 L575.77 252.37Z M587.28 277.76 L590.56 283.11 L593.20 280.09 L597.09 279.10 L593.81 273.76 L591.17 276.78Z M602.25 302.58 L605.44 308.02 L608.15 305.10 L612.03 304.16 L608.84 298.72 L606.13 301.65Z M616.82 327.84 L619.93 333.37 L622.70 330.54 L626.55 329.65 L623.45 324.12 L620.68 326.94Z M631.00 353.50 L634.02 359.11 L636.85 356.39 L640.69 355.53 L637.67 349.91 L634.84 352.64Z M644.82 379.56 L647.76 385.25 L650.64 382.61 L654.46 381.79 L651.51 376.10 L648.63 378.74Z M658.28 405.98 L661.15 411.76 L664.07 409.21 L667.87 408.42 L665.00 402.64 L662.08 405.19Z M671.40 432.77 L674.20 438.62 L677.16 436.15 L680.94 435.39 L678.14 429.54 L675.18 432.01Z M684.21 459.89 L686.93 465.81 L689.93 463.44 L693.69 462.70 L690.97 456.78 L687.96 459.16Z M696.70 487.35 L699.36 493.34 L702.39 491.04 L706.13 490.33 L703.47 484.34 L700.43 486.63Z" fill="#96C800"/></g>
</g>
</svg>
<div class="t" style="right:721.80px;transform-origin:100% 0;transform:scaleX(1.0);top:-0.24px;font-size:34.4px">10<span class="s" style="font-size:20.90px;margin-left:-1.0px;top:-14.96px">0</span></div>
<div class="t" style="right:721.80px;transform-origin:100% 0;transform:scaleX(1.0);top:80.12px;font-size:34.4px">10<span class="s" style="font-size:20.90px;margin-left:-1.0px;top:-14.96px">-2</span></div>
<div class="t" style="right:721.80px;transform-origin:100% 0;transform:scaleX(1.0);top:160.48px;font-size:34.4px">10<span class="s" style="font-size:20.90px;margin-left:-1.0px;top:-14.96px">-4</span></div>
<div class="t" style="right:721.80px;transform-origin:100% 0;transform:scaleX(1.0);top:240.84px;font-size:34.4px">10<span class="s" style="font-size:20.90px;margin-left:-1.0px;top:-14.96px">-6</span></div>
<div class="t" style="right:721.80px;transform-origin:100% 0;transform:scaleX(1.0);top:321.20px;font-size:34.4px">10<span class="s" style="font-size:20.90px;margin-left:-1.0px;top:-14.96px">-8</span></div>
<div class="t" style="right:721.80px;transform-origin:100% 0;transform:scaleX(1.0);top:401.56px;font-size:34.4px">10<span class="s" style="font-size:20.90px;margin-left:-1.0px;top:-14.96px">-10</span></div>
<div class="t" style="right:721.80px;transform-origin:100% 0;transform:scaleX(1.0);top:471.09px;font-size:34.4px">10<span class="s" style="font-size:20.90px;margin-left:-1.0px;top:-14.96px">-12</span></div>
<div class="t" style="left:314.80px;transform:translateX(-50%) scaleX(1.0);top:511.99px;font-size:34.4px">1</div>
<div class="t" style="left:798.00px;transform-origin:0 0;transform:scaleX(1.0);top:511.99px;font-size:34.4px">10</div>
<div class="t" style="left:465.60px;transform:translateX(-50%) scaleX(1.0);top:549.65px;font-size:32.9px">Normalized electron density n<span class="s" style="font-size:20.40px;top:7.90px">e</span>/n<span class="s" style="font-size:20.40px;top:7.90px">c</span></div>
<div class="t" style="font-size:33.1px;left:22.80px;top:252.20px;transform-origin:0 0;transform:rotate(-90deg) translate(-50%,-27.55px);">Normalized O-mode intensity I/I<span class="s" style="font-size:20.40px;top:7.90px">0</span></div>
<div class="t" style="left:228.80px;transform-origin:0 0;transform:scaleX(1.06);top:66.01px;font-size:20.4px">&delta;B/B<span class="s" style="font-size:13.60px;top:4.60px">0</span> = 1.0</div>
</body></html>
